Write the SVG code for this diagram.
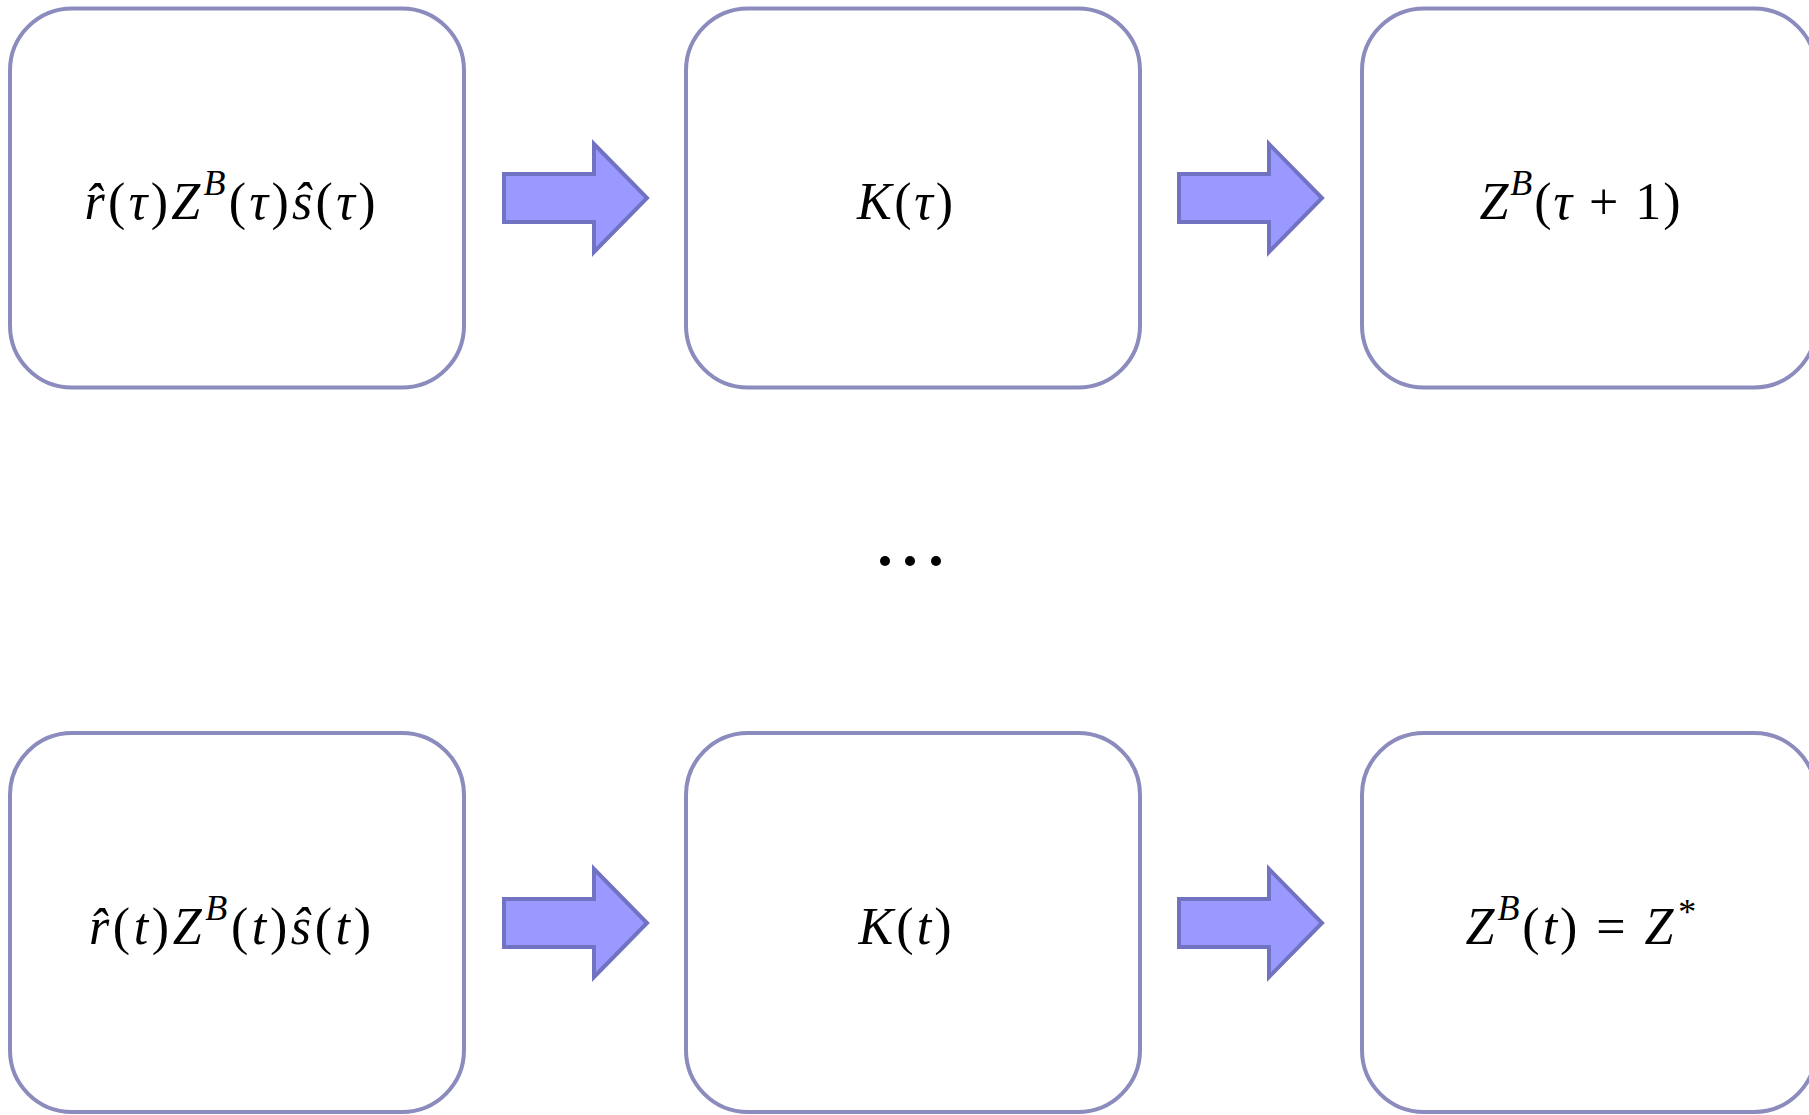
<svg xmlns="http://www.w3.org/2000/svg" width="1809" height="1115" viewBox="0 0 1809 1115">
<style>
.box{fill:#ffffff;stroke:#8b8bbd;stroke-width:4}
.arr{fill:#9999ff;stroke:#7272c2;stroke-width:4;stroke-linejoin:miter}
.m{font-family:"Liberation Serif","Times New Roman",serif;font-size:52px;fill:#000;text-anchor:middle}
.i{font-style:italic}
.sup{font-style:italic;font-size:36px}
</style>
<rect width="1809" height="1115" fill="#ffffff"/>
<defs>
<path id="arrow" d="M0,-24 L90,-24 L90,-54 L143,0 L90,54 L90,24 L0,24 Z"/>
</defs>
<g id="connectors">
<use href="#arrow" class="arr" x="504" y="198"/>
<use href="#arrow" class="arr" x="1179" y="198"/>
<use href="#arrow" class="arr" x="504" y="923"/>
<use href="#arrow" class="arr" x="1179" y="923"/>
</g>
<g id="n1">
<rect class="box" x="10" y="8.5" width="454" height="379" rx="62"/>
<text class="m" x="230" y="219" textLength="291" lengthAdjust="spacing"><tspan class="i">r̂</tspan>(<tspan class="i">τ</tspan>)<tspan class="i">Z</tspan><tspan class="sup" dy="-24">B</tspan><tspan dy="24">(</tspan><tspan class="i">τ</tspan>)<tspan class="i">ŝ</tspan>(<tspan class="i">τ</tspan>)</text>
</g>
<g id="n2">
<rect class="box" x="686" y="8.5" width="454" height="379" rx="62"/>
<text class="m" x="905" y="219" textLength="96" lengthAdjust="spacing"><tspan class="i">K</tspan>(<tspan class="i">τ</tspan>)</text>
</g>
<g id="n3">
<rect class="box" x="1362" y="8.5" width="454" height="379" rx="62"/>
<text class="m" x="1580" y="219" textLength="201" lengthAdjust="spacing"><tspan class="i">Z</tspan><tspan class="sup" dy="-24">B</tspan><tspan dy="24">(</tspan><tspan class="i">τ</tspan> + 1)</text>
</g>
<g id="dots" fill="#000">
<circle cx="885" cy="561" r="5"/>
<circle cx="910" cy="561" r="5"/>
<circle cx="936" cy="561" r="5"/>
</g>
<g id="n4">
<rect class="box" x="10" y="733" width="454" height="379" rx="62"/>
<text class="m" x="230" y="944" textLength="282" lengthAdjust="spacing"><tspan class="i">r̂</tspan>(<tspan class="i">t</tspan>)<tspan class="i">Z</tspan><tspan class="sup" dy="-24">B</tspan><tspan dy="24">(</tspan><tspan class="i">t</tspan>)<tspan class="i">ŝ</tspan>(<tspan class="i">t</tspan>)</text>
</g>
<g id="n5">
<rect class="box" x="686" y="733" width="454" height="379" rx="62"/>
<text class="m" x="905" y="944" textLength="93" lengthAdjust="spacing"><tspan class="i">K</tspan>(<tspan class="i">t</tspan>)</text>
</g>
<g id="n6">
<rect class="box" x="1362" y="733" width="454" height="379" rx="62"/>
<text class="m" x="1580" y="944" textLength="229" lengthAdjust="spacing"><tspan class="i">Z</tspan><tspan class="sup" dy="-24">B</tspan><tspan dy="24">(</tspan><tspan class="i">t</tspan>) = <tspan class="i">Z</tspan><tspan class="sup" dy="-20">*</tspan></text>
</g>
</svg>
